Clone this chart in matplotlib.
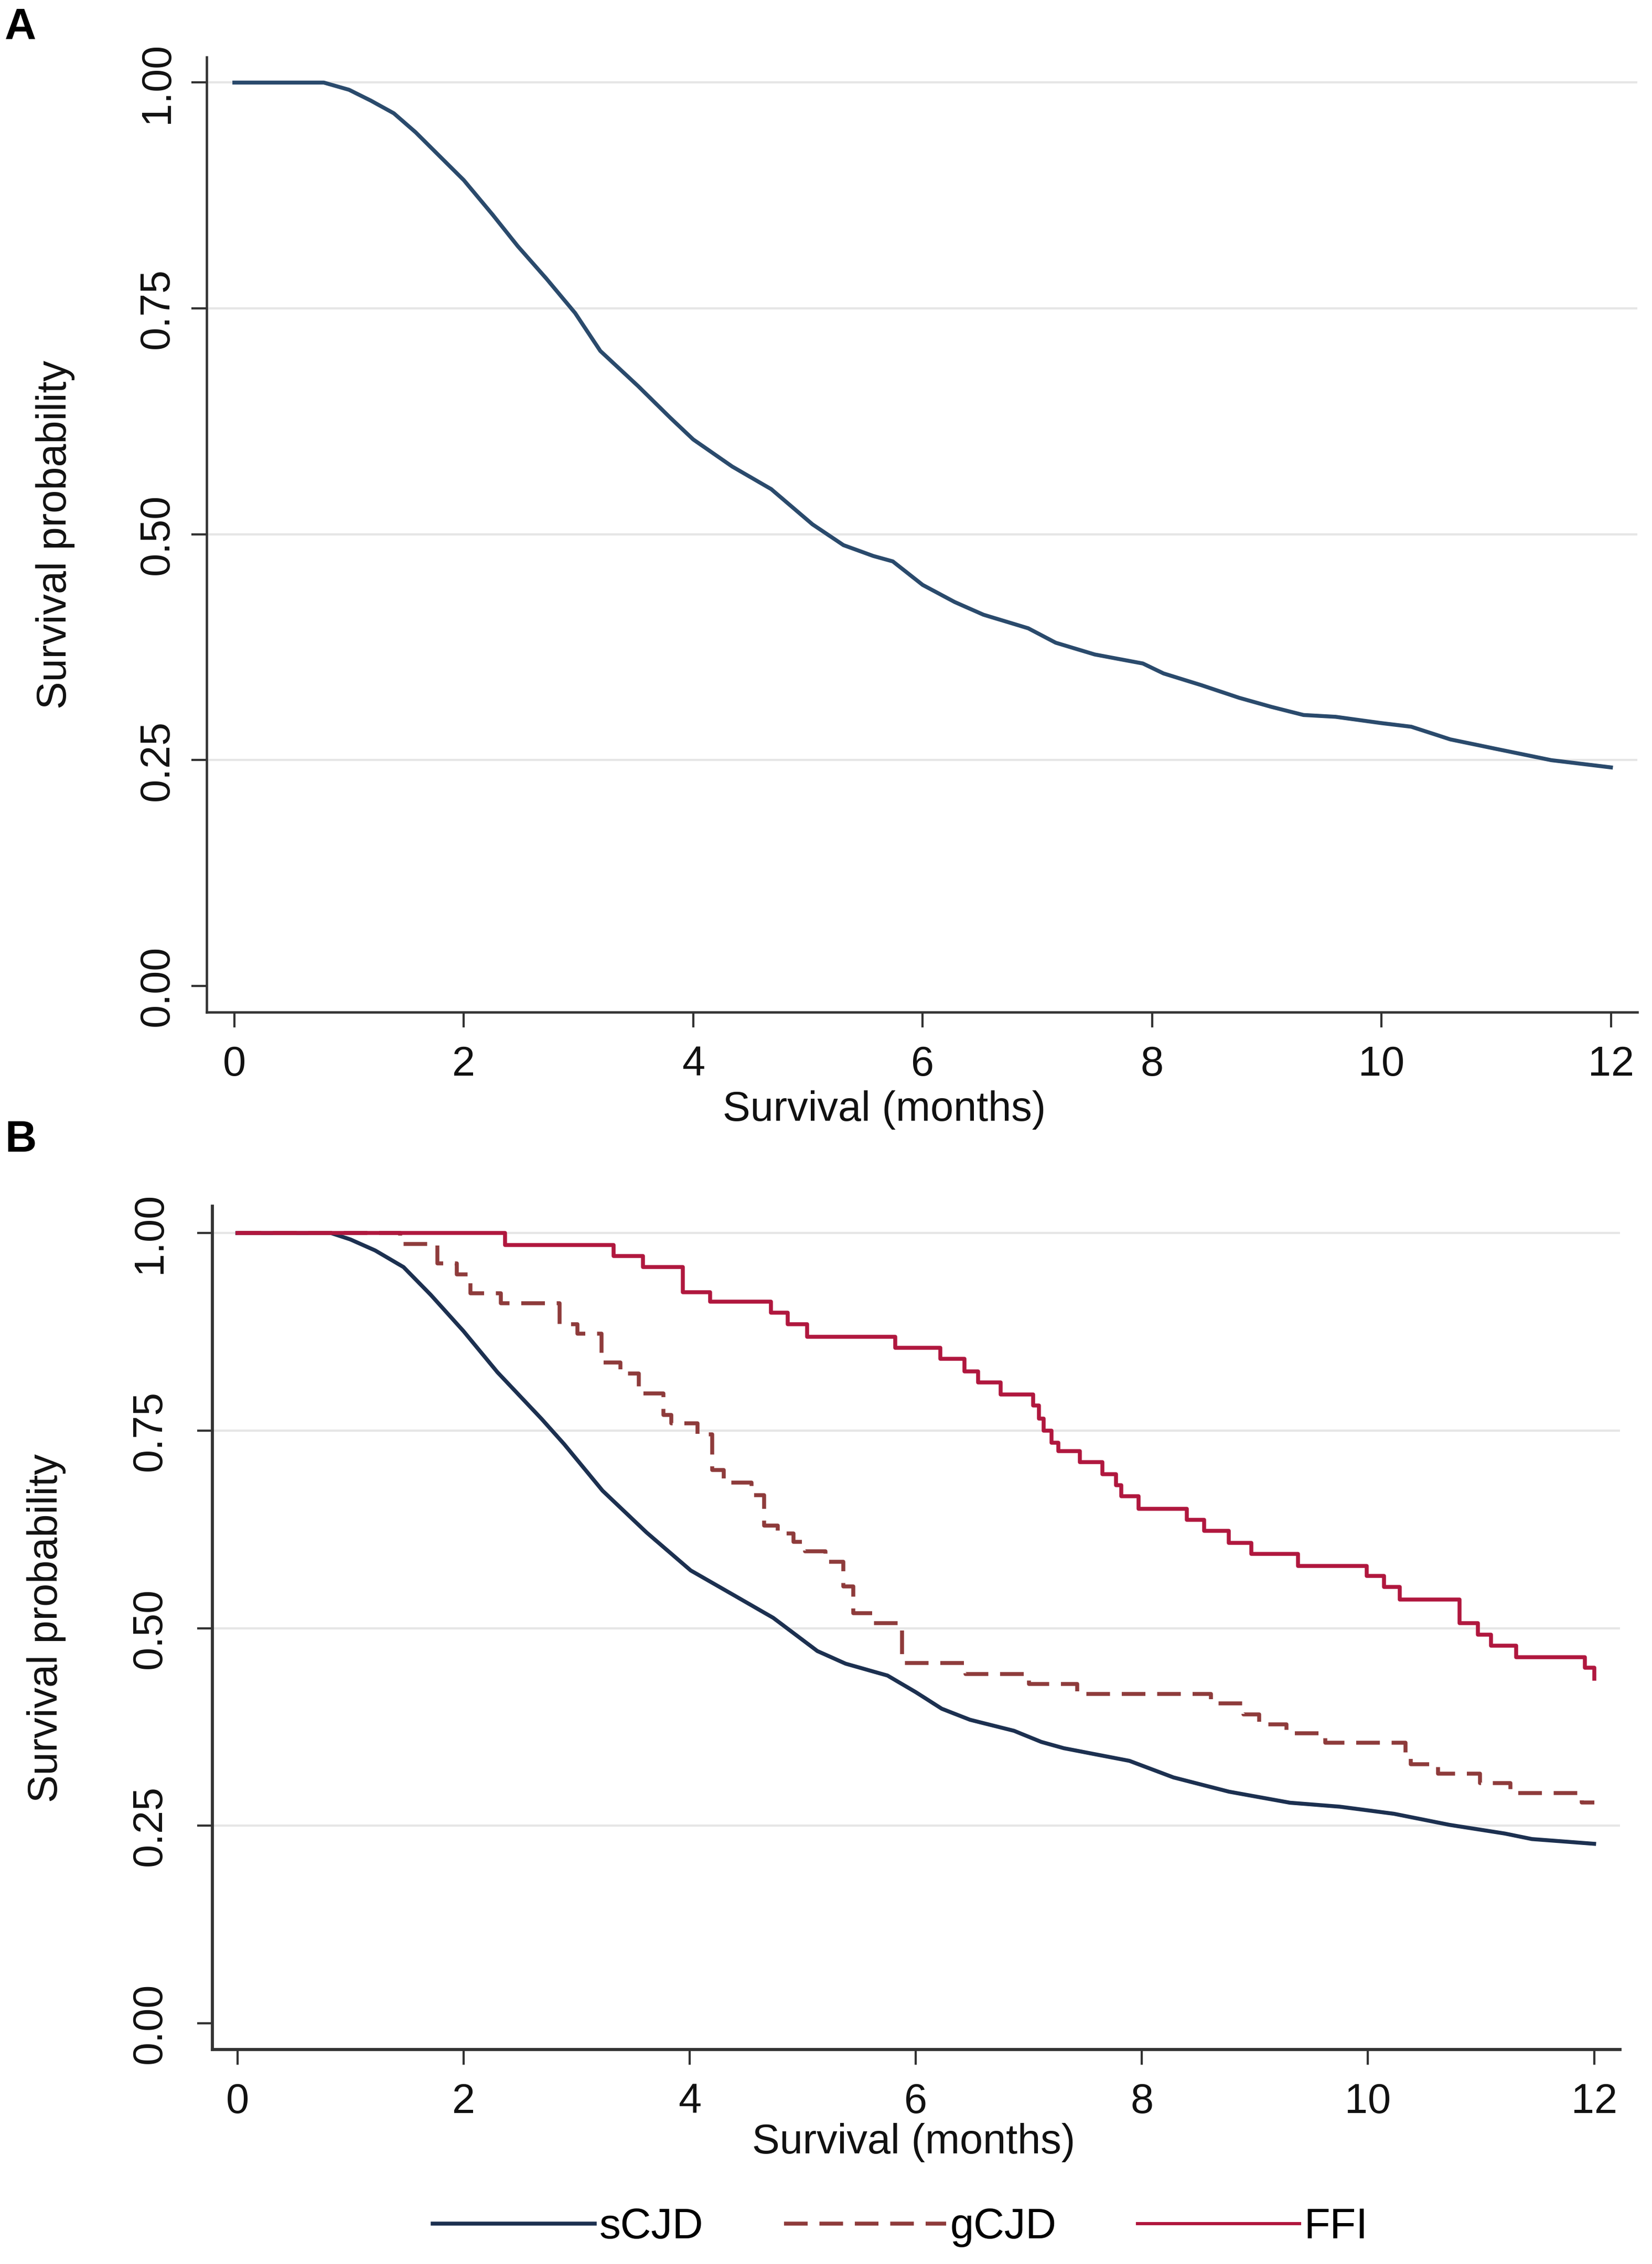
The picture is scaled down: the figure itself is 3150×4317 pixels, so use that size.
import matplotlib
matplotlib.use("Agg")
import matplotlib.pyplot as plt
from matplotlib.lines import Line2D

plt.rcParams['font.family'] = ['Liberation Sans', 'DejaVu Sans']

# Panel A: overall survival
time_all = [0, 0.78, 1.0, 1.19, 1.39, 1.58, 1.77, 2.0, 2.25, 2.47, 2.72, 2.97, 3.19, 3.52,
            3.80, 4.0, 4.34, 4.68, 5.04, 5.31, 5.57, 5.74, 6.0, 6.28, 6.53, 6.92, 7.16,
            7.50, 7.92, 8.10, 8.43, 8.76, 9.04, 9.32, 9.60, 10.0, 10.26, 10.60, 10.98,
            11.48, 12.0]
surv_all = [1.0, 1.0, 0.992, 0.980, 0.966, 0.945, 0.921, 0.892, 0.854, 0.819, 0.783, 0.745,
            0.703, 0.664, 0.629, 0.605, 0.575, 0.550, 0.511, 0.488, 0.476, 0.470, 0.444,
            0.425, 0.411, 0.396, 0.380, 0.367, 0.357, 0.346, 0.333, 0.319, 0.309, 0.300,
            0.298, 0.291, 0.287, 0.273, 0.263, 0.250, 0.242]

# Panel B: by group
time_scjd = [0, 0.83, 1.0, 1.22, 1.47, 1.71, 2.0, 2.3, 2.69, 2.89, 3.23, 3.62, 4.01, 4.40,
             4.74, 5.13, 5.38, 5.75, 6.0, 6.23, 6.48, 6.87, 7.11, 7.31, 7.89, 8.28, 8.77,
             9.31, 9.75, 10.23, 10.72, 11.21, 11.45, 12.0]
surv_scjd = [1.0, 1.0, 0.992, 0.978, 0.957, 0.922, 0.876, 0.824, 0.765, 0.733, 0.674, 0.621,
             0.573, 0.541, 0.513, 0.471, 0.455, 0.440, 0.419, 0.398, 0.384, 0.370, 0.356,
             0.348, 0.332, 0.311, 0.293, 0.279, 0.274, 0.265, 0.251, 0.240, 0.233, 0.227]

time_gcjd = [0, 1.44, 1.77, 1.94, 2.06, 2.33, 2.85, 3.01, 3.22, 3.39, 3.55, 3.77, 3.84, 4.07,
             4.20, 4.30, 4.55, 4.66, 4.78, 4.92, 5.02, 5.20, 5.36, 5.45, 5.63, 5.88, 6.44,
             7.00, 7.43, 8.61, 8.90, 9.04, 9.28, 9.62, 10.33, 10.38, 10.62, 10.99, 11.26,
             11.89, 12.0]
surv_gcjd = [1.0, 0.986, 0.962, 0.948, 0.924, 0.911, 0.885, 0.873, 0.836, 0.822, 0.797, 0.770,
             0.759, 0.745, 0.700, 0.684, 0.668, 0.630, 0.620, 0.609, 0.597, 0.584, 0.553,
             0.519, 0.506, 0.456, 0.442, 0.429, 0.417, 0.405, 0.391, 0.378, 0.367, 0.355,
             0.339, 0.328, 0.316, 0.304, 0.291, 0.279, 0.279]

time_ffi = [0, 2.37, 3.33, 3.59, 3.94, 4.18, 4.72, 4.87, 5.04, 5.82, 6.22, 6.43, 6.55, 6.75,
            7.04, 7.09, 7.13, 7.20, 7.26, 7.45, 7.65, 7.77, 7.82, 7.97, 8.40, 8.55, 8.77,
            8.97, 9.38, 9.99, 10.14, 10.28, 10.81, 10.97, 11.09, 11.31, 11.92, 12.0]
surv_ffi = [1.0, 0.985, 0.971, 0.957, 0.925, 0.913, 0.899, 0.885, 0.869, 0.855, 0.841, 0.825,
            0.811, 0.796, 0.782, 0.765, 0.750, 0.735, 0.724, 0.710, 0.695, 0.681, 0.667,
            0.651, 0.637, 0.623, 0.608, 0.594, 0.579, 0.566, 0.552, 0.536, 0.506, 0.492,
            0.478, 0.463, 0.450, 0.436]

group_names = ['sCJD', 'gCJD', 'FFI']
x_ticks = [0, 2, 4, 6, 8, 10, 12]
y_ticks = [0, 0.25, 0.5, 0.75, 1.0]

NAVY_A = '#2a4a6c'
NAVY = '#1c3050'
BROWN = '#8e3b3b'
CRIMSON = '#b0173e'
AXC = '#333333'
FS = 19
LW = 1.8
DASH = (0, (6, 3))

fig = plt.figure(figsize=(10.5, 14.39), dpi=300)
axA = fig.add_axes([0.1252, 0.5529, 0.8659, 0.4218])
axB = fig.add_axes([0.1286, 0.0947, 0.8521, 0.3725])


def style_axis(ax, ylim, xlim, ypad, ylab_x, xlab_xy, spine_w):
    ax.set_xlim(*xlim)
    ax.set_ylim(*ylim)
    ax.set_xticks(x_ticks)
    ax.set_yticks(y_ticks)
    ax.set_yticklabels(['%.2f' % v for v in y_ticks])
    for s in ['top', 'right']:
        ax.spines[s].set_visible(False)
    for s in ['left', 'bottom']:
        ax.spines[s].set_color(AXC)
        ax.spines[s].set_linewidth(spine_w)
    ax.tick_params(direction='out', length=7, width=1.0, color=AXC,
                   labelsize=FS, labelcolor='#111111')
    ax.tick_params(axis='y', pad=ypad)
    ax.tick_params(axis='x', pad=8)
    plt.setp(ax.get_yticklabels(), rotation=90, va='center')
    ax.set_axisbelow(True)
    ax.grid(axis='y', color='#e6e6e6', linewidth=1.0)
    ax.yaxis.get_gridlines()[0].set_visible(False)
    ax.set_ylabel('Survival probability', fontsize=FS, color='#111111')
    ax.set_xlabel('Survival (months)', fontsize=FS, color='#111111')
    ax.yaxis.set_label_coords(ylab_x, 0.5)
    ax.xaxis.set_label_coords(*xlab_xy)


# Panel A
axA.plot(time_all, surv_all, color=NAVY_A, linewidth=LW)
style_axis(axA, (-0.029, 1.028), (-0.24, 12.23), 6.5, -0.092, (0.4735, -0.082), 1.1)

# Panel B
axB.plot(time_scjd, surv_scjd, color=NAVY, linewidth=LW)
axB.step(time_gcjd, surv_gcjd, where='post', color=BROWN, linewidth=LW, linestyle=DASH)
axB.step(time_ffi, surv_ffi, where='post', color=CRIMSON, linewidth=LW)
style_axis(axB, (-0.0335, 1.034), (-0.22, 12.23), 12.5, -0.104, (0.498, -0.087), 1.4)

handles = [Line2D([], [], color=NAVY, linewidth=LW),
           Line2D([], [], color=BROWN, linewidth=LW, linestyle=DASH),
           Line2D([], [], color=CRIMSON, linewidth=LW * 0.8)]
fig.legend(handles, group_names, loc='center', bbox_to_anchor=(0.545, 0.0162), ncol=3,
           frameon=False, fontsize=FS + 0.5, handlelength=3.8, handletextpad=0.1,
           columnspacing=1.9)

fig.text(9 / 3150, 1 - 74 / 4317, 'A', fontsize=20, fontweight='bold', va='baseline')
fig.text(9 / 3150, 1 - 2196 / 4317, 'B', fontsize=20, fontweight='bold', va='baseline')

fig.savefig('out.png', dpi=300, facecolor='white')
